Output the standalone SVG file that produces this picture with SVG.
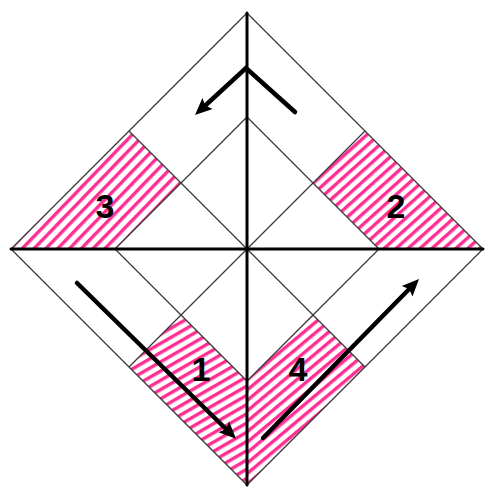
<svg xmlns="http://www.w3.org/2000/svg" width="500" height="495" viewBox="0 0 500 495">
<style>
.thin{fill:none;stroke:#3a3a3a;stroke-width:1.3}
.thick{fill:none;stroke:#000;stroke-width:3;stroke-linecap:round}
.arrow{fill:none;stroke:#000;stroke-width:4.5;stroke-linecap:round;stroke-linejoin:miter;marker-end:url(#ah)}
.num{font-family:"Liberation Sans",Arial,sans-serif;font-weight:bold;font-size:34px;fill:#000;text-anchor:middle}
</style>
<defs>
<pattern id="h1" patternUnits="userSpaceOnUse" width="8" height="8" patternTransform="rotate(-30)"><rect width="8" height="8" fill="#fff"/><rect width="8" height="3.4" fill="#ff2e93"/></pattern>
<pattern id="h2" patternUnits="userSpaceOnUse" width="8" height="8" patternTransform="rotate(-42)"><rect width="8" height="8" fill="#fff"/><rect width="8" height="3.4" fill="#ff2e93"/></pattern>
<pattern id="h3" patternUnits="userSpaceOnUse" width="8.5" height="8.5" patternTransform="rotate(-46)"><rect width="8.5" height="8.5" fill="#fff"/><rect width="8.5" height="3.4" fill="#ff2e93"/></pattern>
<pattern id="h4" patternUnits="userSpaceOnUse" width="8" height="8" patternTransform="rotate(-40)"><rect width="8" height="8" fill="#fff"/><rect width="8" height="3.4" fill="#ff2e93"/></pattern>
<marker id="ah" markerUnits="userSpaceOnUse" viewBox="-1 -9 20 18" refX="3" refY="0" markerWidth="20" markerHeight="18" orient="auto"><path d="M0,-7.5 L17,0 L0,7.5 L3,0 z" fill="#000"/></marker>
</defs>
<rect width="500" height="495" fill="#fff"/>
<g id="regions">
<polygon id="region3" points="129,131 11,249 115,249 181,183" fill="url(#h3)"/>
<polygon id="region2" points="365,131 483,249 379,249 313,183" fill="url(#h2)"/>
<polygon id="region1" points="181,315 129,367 247,485 247,381" fill="url(#h1)"/>
<polygon id="region4" points="247,381 247,485 365,367 313,315" fill="url(#h4)"/>
</g>
<g id="lines">
<polygon class="thin" points="247,13 483,249 247,485 11,249"/>
<polygon class="thin" points="247,117 379,249 247,381 115,249"/>
<line class="thin" x1="129" y1="131" x2="365" y2="367"/>
<line class="thin" x1="365" y1="131" x2="129" y2="367"/>
<line class="thick" x1="247" y1="13" x2="247" y2="485"/>
<line class="thick" x1="11" y1="249" x2="483" y2="249"/>
</g>
<g id="connectors">
<polyline class="arrow" points="295,112 246,68 205.3,105.5"/>
<line class="arrow" x1="77" y1="283" x2="226" y2="429"/>
<line class="arrow" x1="263" y1="438" x2="409.2" y2="289"/>
</g>
<g id="labels">
<text id="label3" class="num" x="105" y="218">3</text>
<text id="label2" class="num" x="396" y="218">2</text>
<text id="label1" class="num" x="201" y="381">1</text>
<text id="label4" class="num" x="298" y="381">4</text>
</g>
</svg>
